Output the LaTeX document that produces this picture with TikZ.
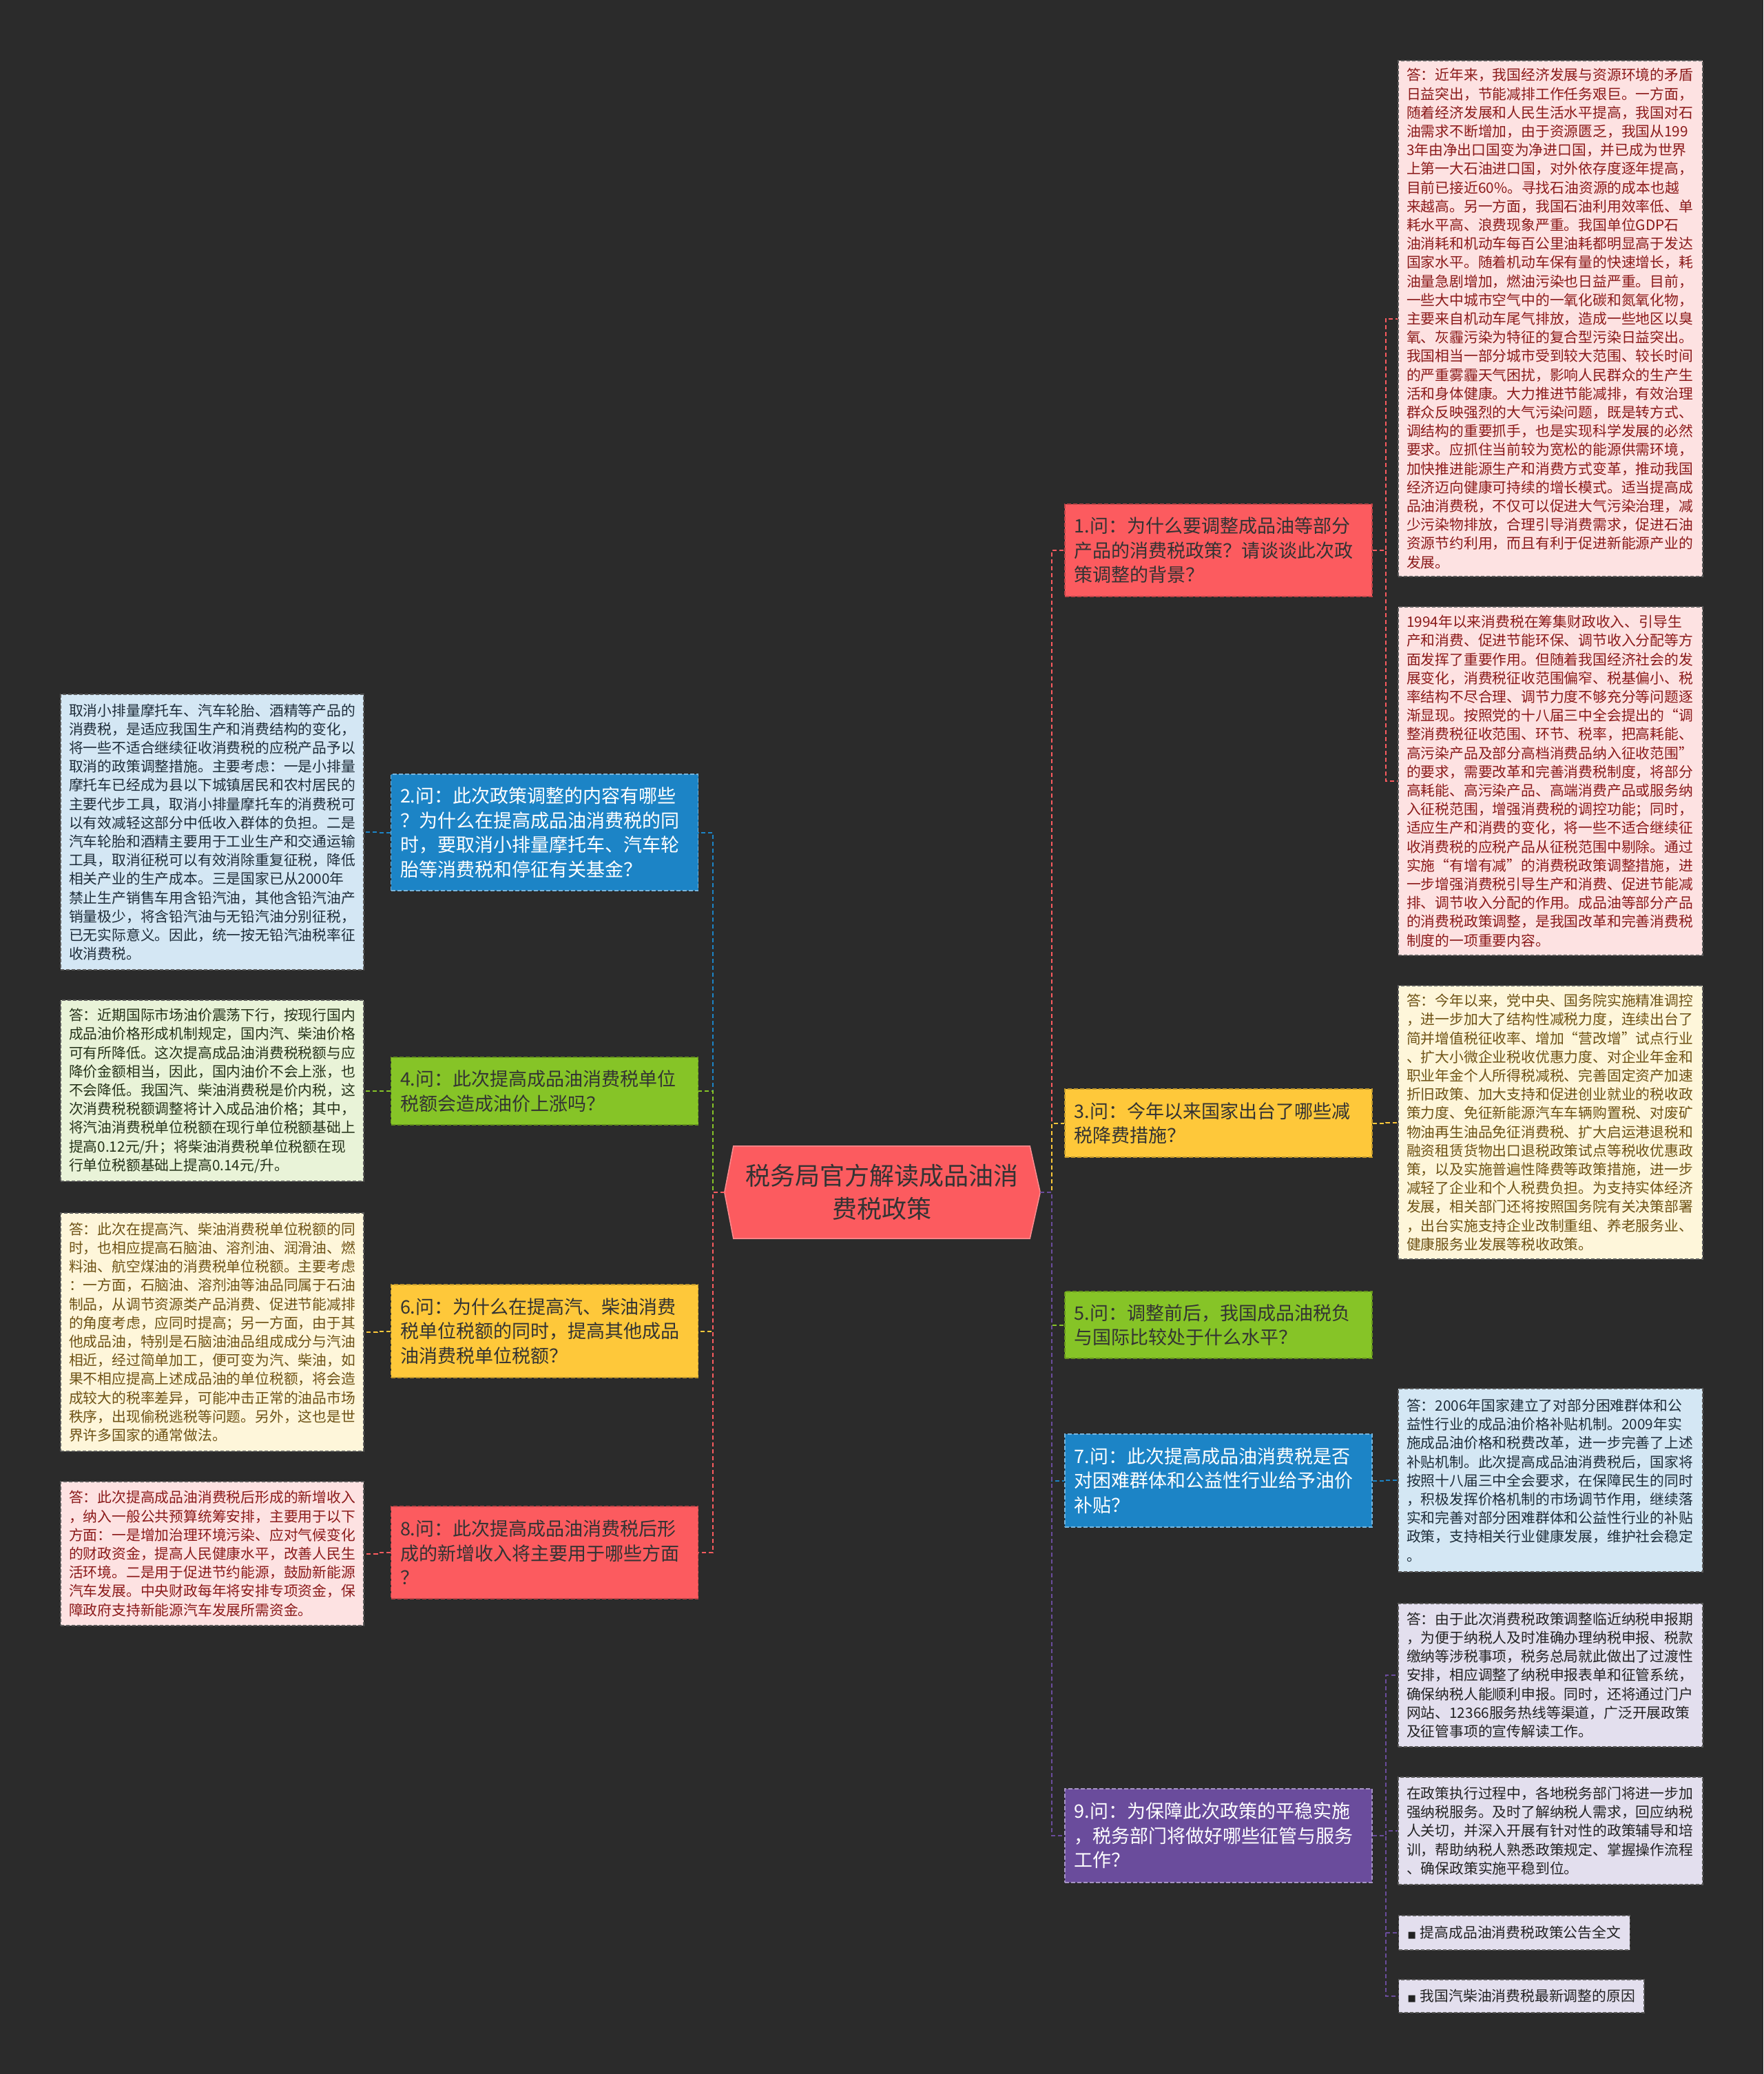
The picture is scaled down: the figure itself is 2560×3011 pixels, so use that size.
\documentclass[tikz,border=0pt]{standalone}
\usepackage{fontspec}
\newfontfamily\cjk{Noto Sans CJK SC}
\newfontfamily\symfnt{DejaVu Sans}
\usetikzlibrary{calc}
\definecolor{bg}{HTML}{2B2B2B}
\definecolor{qred}{HTML}{FC5B5F}
\definecolor{qblue}{HTML}{1C84C6}
\definecolor{qgreen}{HTML}{86C427}
\definecolor{qyellow}{HTML}{FEC83A}
\definecolor{qpurple}{HTML}{6A4C9C}
\definecolor{qdark}{HTML}{333333}
\definecolor{apinkf}{HTML}{FDE2E2}
\definecolor{apinkt}{HTML}{8B1A1A}
\definecolor{abluef}{HTML}{D4E7F4}
\definecolor{abluet}{HTML}{1E2D3A}
\definecolor{agreenf}{HTML}{E9F3D8}
\definecolor{agreent}{HTML}{26331A}
\definecolor{acreamf}{HTML}{FEF6DA}
\definecolor{acreamt}{HTML}{6E5215}
\definecolor{alavf}{HTML}{E3DFEE}
\definecolor{alavt}{HTML}{222222}
\definecolor{aborder}{HTML}{5A5A5A}
\newcommand\afont{\cjk\fontsize{20.8pt}{27.2pt}\selectfont}
\newcommand\qfont{\cjk\fontsize{27pt}{35.5pt}\selectfont}
\newcommand\cfont{\cjk\fontsize{36pt}{48pt}\selectfont}
\tikzset{
  conn/.style={line width=2pt, dash pattern=on 6pt off 4pt},
  qbox/.style={rectangle, inner sep=0pt, minimum width=446pt, text width=419pt, align=left, font=\qfont, line width=1.5pt, dash pattern=on 6pt off 3pt},
  qredbox/.style={qbox, fill=qred, draw=qred!75!black, text=qdark},
  qbluebox/.style={qbox, fill=qblue, draw=qblue!60!white, text=white},
  qgreenbox/.style={qbox, fill=qgreen, draw=qgreen!75!black, text=qdark},
  qyellowbox/.style={qbox, fill=qyellow, draw=qyellow!75!black, text=qdark},
  qpurplebox/.style={qbox, fill=qpurple, draw=qpurple!60!white, text=white},
  abox/.style={rectangle, inner sep=0pt, minimum width=442pt, text width=418pt, align=left, font=\afont, line width=1.3pt, draw=aborder, dash pattern=on 5pt off 3pt},
  apink/.style={abox, fill=apinkf, text=apinkt},
  ablue/.style={abox, fill=abluef, text=abluet},
  agreen/.style={abox, fill=agreenf, text=agreent},
  acream/.style={abox, fill=acreamf, text=acreamt},
  alav/.style={abox, fill=alavf, text=alavt},
  linkbox/.style={rectangle, inner xsep=13pt, inner ysep=0pt, align=left, font=\afont, line width=1.3pt, draw=aborder, dash pattern=on 5pt off 3pt, fill=alavf, text=alavt},
}
\begin{document}
\begin{tikzpicture}[x=1pt,y=-1pt]
\useasboundingbox (0,0) rectangle (2560,3011);
\fill[bg] (0,0) rectangle (2560,3011);

% ---------- centre ----------
\node[minimum width=430pt, minimum height=134pt, inner sep=0pt] (c) at (1280,1731) {};
\coordinate (cl) at ($(c.west)+(-13,0)$);
\coordinate (cr) at ($(c.east)+(15,0)$);
\filldraw[fill=qred, draw=qred!70!white, line width=1.5pt] (c.north west) -- (c.north east) -- (cr) -- (c.south east) -- (c.south west) -- (cl) -- cycle;
\node[font=\cfont, text=qdark, align=center] (ct) at (c) {税务局官方解读成品油消\\费税政策};

% ---------- right questions ----------
\node[qredbox, minimum height=134pt] (q1) at (1769,799) {1.问：为什么要调整成品油等部分\\产品的消费税政策？请谈谈此次政\\策调整的背景？};
\node[qyellowbox, minimum height=99pt] (q3) at (1769,1630.5) {3.问：今年以来国家出台了哪些减\\税降费措施？};
\node[qgreenbox, minimum height=97pt] (q5) at (1769,1923.5) {5.问：调整前后，我国成品油税负\\与国际比较处于什么水平？};
\node[qbluebox, minimum height=135pt] (q7) at (1769,2149.5) {7.问：此次提高成品油消费税是否\\对困难群体和公益性行业给予油价\\补贴？};
\node[qpurplebox, minimum height=136pt] (q9) at (1769,2665) {9.问：为保障此次政策的平稳实施\\，税务部门将做好哪些征管与服务\\工作？};

% ---------- left questions ----------
\node[qbluebox, minimum height=169pt] (q2) at (790.5,1208.5) {2.问：此次政策调整的内容有哪些\\？为什么在提高成品油消费税的同\\时，要取消小排量摩托车、汽车轮\\胎等消费税和停征有关基金？};
\node[qgreenbox, minimum height=98pt] (q4) at (790.5,1584) {4.问：此次提高成品油消费税单位\\税额会造成油价上涨吗？};
\node[qyellowbox, minimum height=135pt] (q6) at (790.5,1932.5) {6.问：为什么在提高汽、柴油消费\\税单位税额的同时，提高其他成品\\油消费税单位税额？};
\node[qredbox, minimum height=134pt] (q8) at (790.5,2254) {8.问：此次提高成品油消费税后形\\成的新增收入将主要用于哪些方面\\？};

% ---------- right answers ----------
\node[apink, minimum height=749pt] (a1a) at (2251,462.5) {答：近年来，我国经济发展与资源环境的矛盾\\日益突出，节能减排工作任务艰巨。一方面，\\随着经济发展和人民生活水平提高，我国对石\\油需求不断增加，由于资源匮乏，我国从199\\3年由净出口国变为净进口国，并已成为世界\\上第一大石油进口国，对外依存度逐年提高，\\目前已接近60\%。寻找石油资源的成本也越\\来越高。另一方面，我国石油利用效率低、单\\耗水平高、浪费现象严重。我国单位GDP石\\油消耗和机动车每百公里油耗都明显高于发达\\国家水平。随着机动车保有量的快速增长，耗\\油量急剧增加，燃油污染也日益严重。目前，\\一些大中城市空气中的一氧化碳和氮氧化物，\\主要来自机动车尾气排放，造成一些地区以臭\\氧、灰霾污染为特征的复合型污染日益突出。\\我国相当一部分城市受到较大范围、较长时间\\的严重雾霾天气困扰，影响人民群众的生产生\\活和身体健康。大力推进节能减排，有效治理\\群众反映强烈的大气污染问题，既是转方式、\\调结构的重要抓手，也是实现科学发展的必然\\要求。应抓住当前较为宽松的能源供需环境，\\加快推进能源生产和消费方式变革，推动我国\\经济迈向健康可持续的增长模式。适当提高成\\品油消费税，不仅可以促进大气污染治理，减\\少污染物排放，合理引导消费需求，促进石油\\资源节约利用，而且有利于促进新能源产业的\\发展。};
\node[apink, minimum height=506pt] (a1b) at (2251,1134) {1994年以来消费税在筹集财政收入、引导生\\产和消费、促进节能环保、调节收入分配等方\\面发挥了重要作用。但随着我国经济社会的发\\展变化，消费税征收范围偏窄、税基偏小、税\\率结构不尽合理、调节力度不够充分等问题逐\\渐显现。按照党的十八届三中全会提出的“调\\整消费税征收范围、环节、税率，把高耗能、\\高污染产品及部分高档消费品纳入征收范围”\\的要求，需要改革和完善消费税制度，将部分\\高耗能、高污染产品、高端消费产品或服务纳\\入征税范围，增强消费税的调控功能；同时，\\适应生产和消费的变化，将一些不适合继续征\\收消费税的应税产品从征税范围中剔除。通过\\实施“有增有减”的消费税政策调整措施，进\\一步增强消费税引导生产和消费、促进节能减\\排、调节收入分配的作用。成品油等部分产品\\的消费税政策调整，是我国改革和完善消费税\\制度的一项重要内容。};
\node[acream, minimum height=397pt] (a3) at (2251,1629.5) {答：今年以来，党中央、国务院实施精准调控\\，进一步加大了结构性减税力度，连续出台了\\简并增值税征收率、增加“营改增”试点行业\\、扩大小微企业税收优惠力度、对企业年金和\\职业年金个人所得税减税、完善固定资产加速\\折旧政策、加大支持和促进创业就业的税收政\\策力度、免征新能源汽车车辆购置税、对废矿\\物油再生油品免征消费税、扩大启运港退税和\\融资租赁货物出口退税政策试点等税收优惠政\\策，以及实施普遍性降费等政策措施，进一步\\减轻了企业和个人税费负担。为支持实体经济\\发展，相关部门还将按照国务院有关决策部署\\，出台实施支持企业改制重组、养老服务业、\\健康服务业发展等税收政策。};
\node[ablue, minimum height=266pt] (a7) at (2251,2149) {答：2006年国家建立了对部分困难群体和公\\益性行业的成品油价格补贴机制。2009年实\\施成品油价格和税费改革，进一步完善了上述\\补贴机制。此次提高成品油消费税后，国家将\\按照十八届三中全会要求，在保障民生的同时\\，积极发挥价格机制的市场调节作用，继续落\\实和完善对部分困难群体和公益性行业的补贴\\政策，支持相关行业健康发展，维护社会稳定\\。};
\node[alav, minimum height=208pt] (a9a) at (2251,2432) {答：由于此次消费税政策调整临近纳税申报期\\，为便于纳税人及时准确办理纳税申报、税款\\缴纳等涉税事项，税务总局就此做出了过渡性\\安排，相应调整了纳税申报表单和征管系统，\\确保纳税人能顺利申报。同时，还将通过门户\\网站、12366服务热线等渠道，广泛开展政策\\及征管事项的宣传解读工作。};
\node[alav, minimum height=156pt] (a9b) at (2251,2658) {在政策执行过程中，各地税务部门将进一步加\\强纳税服务。及时了解纳税人需求，回应纳税\\人关切，并深入开展有针对性的政策辅导和培\\训，帮助纳税人熟悉政策规定、掌握操作流程\\、确保政策实施平稳到位。};
\node[linkbox, minimum height=50pt, anchor=west] (l1) at (2030,2806) {{\symfnt\fontsize{13pt}{13pt}\selectfont ■}\hspace{6pt}提高成品油消费税政策公告全文};
\node[linkbox, minimum height=48pt, anchor=west] (l2) at (2030,2898) {{\symfnt\fontsize{13pt}{13pt}\selectfont ■}\hspace{6pt}我国汽柴油消费税最新调整的原因};

% ---------- left answers ----------
\node[ablue, minimum width=440pt, text width=416pt, minimum height=400pt] (a2) at (308,1208) {取消小排量摩托车、汽车轮胎、酒精等产品的\\消费税，是适应我国生产和消费结构的变化，\\将一些不适合继续征收消费税的应税产品予以\\取消的政策调整措施。主要考虑：一是小排量\\摩托车已经成为县以下城镇居民和农村居民的\\主要代步工具，取消小排量摩托车的消费税可\\以有效减轻这部分中低收入群体的负担。二是\\汽车轮胎和酒精主要用于工业生产和交通运输\\工具，取消征税可以有效消除重复征税，降低\\相关产业的生产成本。三是国家已从2000年\\禁止生产销售车用含铅汽油，其他含铅汽油产\\销量极少，将含铅汽油与无铅汽油分别征税，\\已无实际意义。因此，统一按无铅汽油税率征\\收消费税。};
\node[agreen, minimum width=440pt, text width=416pt, minimum height=263pt] (a4) at (308,1583.5) {答：近期国际市场油价震荡下行，按现行国内\\成品油价格形成机制规定，国内汽、柴油价格\\可有所降低。这次提高成品油消费税税额与应\\降价金额相当，因此，国内油价不会上涨，也\\不会降低。我国汽、柴油消费税是价内税，这\\次消费税税额调整将计入成品油价格；其中，\\将汽油消费税单位税额在现行单位税额基础上\\提高0.12元/升；将柴油消费税单位税额在现\\行单位税额基础上提高0.14元/升。};
\node[acream, minimum width=440pt, text width=416pt, minimum height=346pt] (a6) at (308,1934) {答：此次在提高汽、柴油消费税单位税额的同\\时，也相应提高石脑油、溶剂油、润滑油、燃\\料油、航空煤油的消费税单位税额。主要考虑\\：一方面，石脑油、溶剂油等油品同属于石油\\制品，从调节资源类产品消费、促进节能减排\\的角度考虑，应同时提高；另一方面，由于其\\他成品油，特别是石脑油油品组成成分与汽油\\相近，经过简单加工，便可变为汽、柴油，如\\果不相应提高上述成品油的单位税额，将会造\\成较大的税率差异，可能冲击正常的油品市场\\秩序，出现偷税逃税等问题。另外，这也是世\\界许多国家的通常做法。};
\node[apink, minimum width=440pt, text width=416pt, minimum height=209pt] (a8) at (308,2255.5) {答：此次提高成品油消费税后形成的新增收入\\，纳入一般公共预算统筹安排，主要用于以下\\方面：一是增加治理环境污染、应对气候变化\\的财政资金，提高人民健康水平，改善人民生\\活环境。二是用于促进节约能源，鼓励新能源\\汽车发展。中央财政每年将安排专项资金，保\\障政府支持新能源汽车发展所需资金。};

% ---------- connectors: centre to questions ----------
\draw[conn, qred]    (cr) -- ++(17,0) |- (q1.west);
\draw[conn, qyellow] (cr) -- ++(17,0) |- (q3.west);
\draw[conn, qgreen]  (cr) -- ++(17,0) |- (q5.west);
\draw[conn, qblue]   (cr) -- ++(17,0) |- (q7.west);
\draw[conn, qpurple] (cr) -- ++(17,0) |- (q9.west);
\draw[conn, qblue]   (cl) -- ++(-17,0) |- (q2.east);
\draw[conn, qgreen]  (cl) -- ++(-17,0) |- (q4.east);
\draw[conn, qyellow] (cl) -- ++(-17,0) |- (q6.east);
\draw[conn, qred]    (cl) -- ++(-17,0) |- (q8.east);

% ---------- connectors: questions to answers ----------
\draw[conn, qred]    (q1.east) -- ++(19,0) |- (a1a.west);
\draw[conn, qred]    (q1.east) -- ++(19,0) |- (a1b.west);
\draw[conn, qyellow] (q3.east) -- ++(19,0) |- (a3.west);
\draw[conn, qblue]   (q7.east) -- ++(19,0) |- (a7.west);
\draw[conn, qpurple] (q9.east) -- ++(19,0) |- (a9a.west);
\draw[conn, qpurple] (q9.east) -- ++(19,0) |- (a9b.west);
\draw[conn, qpurple] (q9.east) -- ++(19,0) |- (l1.west);
\draw[conn, qpurple] (q9.east) -- ++(19,0) |- (l2.west);
\draw[conn, qblue]   (q2.west) -- ++(-19,0) |- (a2.east);
\draw[conn, qgreen]  (q4.west) -- ++(-19,0) |- (a4.east);
\draw[conn, qyellow] (q6.west) -- ++(-19,0) |- (a6.east);
\draw[conn, qred]    (q8.west) -- ++(-19,0) |- (a8.east);
\end{tikzpicture}
\end{document}
